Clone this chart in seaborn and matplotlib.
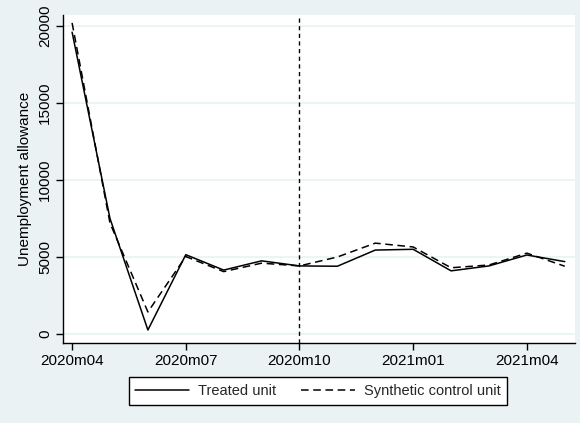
import matplotlib
matplotlib.use("Agg")
import matplotlib.pyplot as plt
import seaborn as sns
import pandas as pd
import numpy as np

months = ["2020m04", "2020m05", "2020m06", "2020m07", "2020m08", "2020m09", "2020m10",
          "2020m11", "2020m12", "2021m01", "2021m02", "2021m03", "2021m04", "2021m05"]
treated = [19600, 7500, 260, 5150, 4150, 4750, 4420, 4400, 5450, 5500, 4100, 4420, 5130, 4700]
synthetic = [20200, 7200, 1430, 5030, 4050, 4600, 4420, 5000, 5900, 5650, 4300, 4480, 5250, 4400]
tick_labels = ["2020m04", "2020m07", "2020m10", "2021m01", "2021m04"]
treat_month = "2020m10"

bg = "#EAF2F3"
sns.set_theme(style="white")
plt.rcParams["font.family"] = ["Liberation Sans", "DejaVu Sans"]

df = pd.DataFrame({
    "t": list(range(len(months))) * 2,
    "value": treated + synthetic,
    "unit": ["Treated unit"] * len(months) + ["Synthetic control unit"] * len(months),
})

fig = plt.figure(figsize=(5.8, 4.23), dpi=100, facecolor=bg)
ax = fig.add_axes([63 / 580, 1 - 343 / 423, (575 - 63) / 580, (343 - 15) / 423])
ax.set_facecolor("white")

sns.lineplot(data=df[df.unit == "Treated unit"], x="t", y="value", ax=ax,
             color="black", lw=1.1, label="Treated unit")
sns.lineplot(data=df[df.unit == "Synthetic control unit"], x="t", y="value", ax=ax,
             color="black", lw=1.1, linestyle=(0, (5, 3)), label="Synthetic control unit")

ax.axvline(months.index(treat_month), color="black", lw=1.0, linestyle=(0, (3, 2.5)))

ax.set_xlim(-0.24, 13.27)
ax.set_ylim(-585, 20714)
ax.set_yticks([0, 5000, 10000, 15000, 20000])
ax.set_yticklabels(["0", "5000", "10000", "15000", "20000"], rotation=90, va="center")
ax.set_xticks([months.index(m) for m in tick_labels])
ax.set_xticklabels(tick_labels)
ax.tick_params(axis="both", direction="out", length=5, width=1, color="black",
               labelsize=11, labelcolor="black", bottom=True, left=True, pad=3)
ax.grid(axis="y", color=bg, lw=1.2)
ax.set_axisbelow(True)
for s in ["top", "right"]:
    ax.spines[s].set_visible(False)
for s in ["left", "bottom"]:
    ax.spines[s].set_color("black")
    ax.spines[s].set_linewidth(1.0)
ax.set_xlabel("")
ax.set_ylabel("Unemployment allowance", fontsize=11, color="black", labelpad=4)

leg = ax.legend(loc="center", bbox_to_anchor=(318 / 580, 1 - 391 / 423),
                bbox_transform=fig.transFigure, ncol=2, frameon=True, fancybox=False,
                edgecolor="black", facecolor="white", fontsize=10.5, handlelength=3.7,
                handletextpad=0.6, columnspacing=1.7, borderpad=0.45, framealpha=1)
leg.get_frame().set_linewidth(1.0)

fig.savefig("out.png", dpi=100, facecolor=bg)
